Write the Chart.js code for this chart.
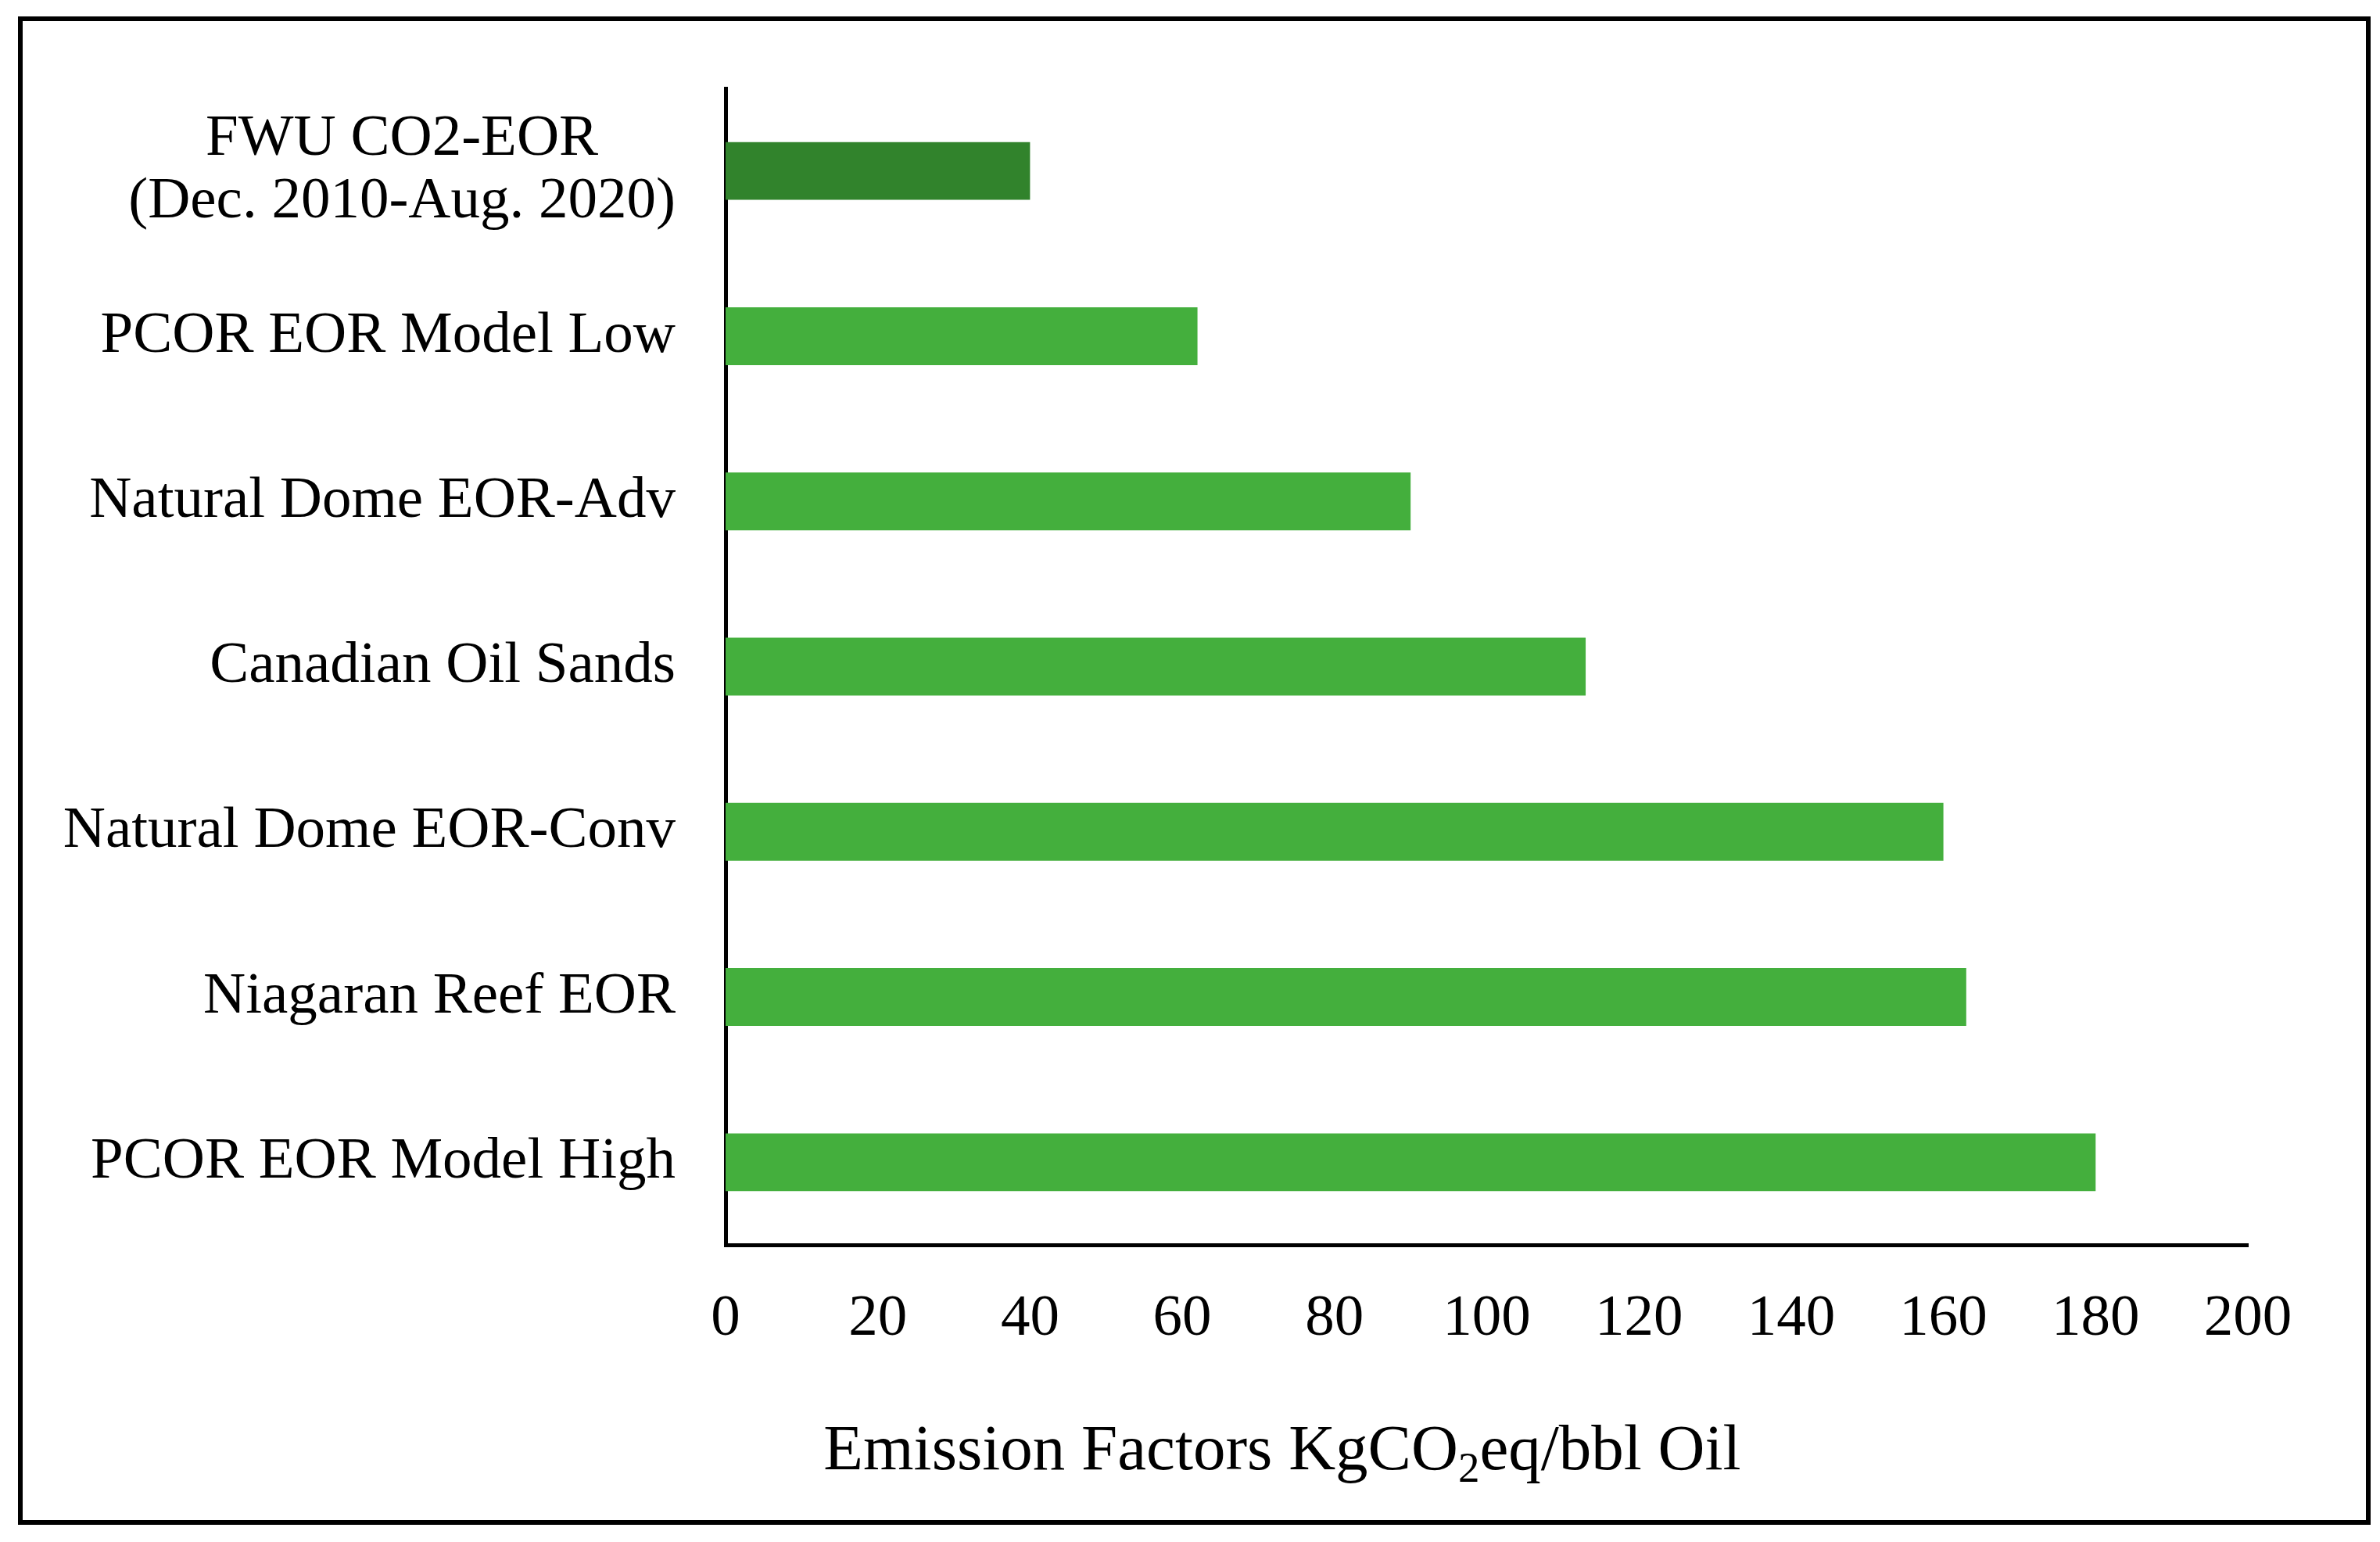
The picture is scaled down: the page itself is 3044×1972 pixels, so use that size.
<!DOCTYPE html>
<html>
<head>
<meta charset="utf-8">
<script src="https://cdn.jsdelivr.net/npm/chart.js@4.4.1/dist/chart.umd.min.js"></script>
<style>
  html, body { margin: 0; padding: 0; background: #fff; }
  #wrap { position: absolute; left: 0; top: 0; width: 3044px; height: 1972px; }
  #frame { position: absolute; left: 23px; top: 21px; width: 3009px; height: 1929px;
           border: 6px solid #000; box-sizing: border-box; pointer-events: none; }
</style>
</head>
<body>
<div id="wrap">
  <canvas id="emissionChart" width="3044" height="1972"></canvas>
  <div id="frame"></div>
</div>
<script>
// data
const categories = [
  ['FWU CO2-EOR', '(Dec. 2010-Aug. 2020)'],
  'PCOR EOR Model Low',
  'Natural Dome EOR-Adv',
  'Canadian Oil Sands',
  'Natural Dome EOR-Conv',
  'Niagaran Reef EOR',
  'PCOR EOR Model High'
];
const emissionFactors = [40, 62, 90, 113, 160, 163, 180];
const xTicks = [0, 20, 40, 60, 80, 100, 120, 140, 160, 180, 200];
const barColors = ['#31832C', '#44AF3D', '#44AF3D', '#44AF3D', '#44AF3D', '#44AF3D', '#44AF3D'];

const serif = '"Liberation Serif", "Times New Roman", serif';
const tickSize = 75;

// first label is drawn centred on two lines, like the original
const fwuLabel = {
  id: 'fwuLabel',
  afterDraw(chart) {
    const ctx = chart.ctx;
    const y = chart.scales.y.getPixelForValue(0);
    const lines = categories[0];
    ctx.save();
    ctx.font = `${tickSize}px ${serif}`;
    ctx.fillStyle = '#000';
    ctx.textBaseline = 'middle';
    ctx.textAlign = 'center';
    const w = Math.max(...lines.map(l => ctx.measureText(l).width));
    const cx = chart.chartArea.left - 64 - w / 2;
    ctx.fillText(lines[0], cx, y - 40);
    ctx.fillText(lines[1], cx, y + 40);
    ctx.restore();
  }
};

// x axis title with subscript 2
const axisTitle = {
  id: 'axisTitle',
  afterDraw(chart) {
    const ctx = chart.ctx;
    const parts = [
      { t: 'Emission Factors KgCO', size: 83, dy: 0 },
      { t: '2', size: 55, dy: 16 },
      { t: 'eq/bbl Oil', size: 83, dy: 0 }
    ];
    ctx.save();
    ctx.fillStyle = '#000';
    ctx.textBaseline = 'alphabetic';
    ctx.textAlign = 'left';
    let total = 0;
    parts.forEach(p => { ctx.font = `${p.size}px ${serif}`; p.w = ctx.measureText(p.t).width; total += p.w; });
    let x = 1640 - total / 2;
    const base = 1879;
    parts.forEach(p => {
      ctx.font = `${p.size}px ${serif}`;
      ctx.fillText(p.t, x, base + p.dy);
      x += p.w;
    });
    ctx.restore();
  }
};

new Chart(document.getElementById('emissionChart').getContext('2d'), {
  type: 'bar',
  data: {
    labels: categories,
    datasets: [{
      data: emissionFactors,
      backgroundColor: barColors,
      borderWidth: 0,
      barPercentage: 0.35,
      categoryPercentage: 1
    }]
  },
  options: {
    indexAxis: 'y',
    responsive: false,
    animation: false,
    devicePixelRatio: 1,
    layout: { padding: { top: 113, right: 169, bottom: 0, left: 0 } },
    plugins: { legend: { display: false }, tooltip: { enabled: false } },
    scales: {
      x: {
        min: 0,
        max: 200,
        afterBuildTicks: scale => { scale.ticks = xTicks.map(v => ({ value: v })); },
        afterFit: scale => { scale.height = 380; },
        grid: { display: false, drawTicks: false },
        border: { display: true, color: '#000', width: 5 },
        ticks: { color: '#000', padding: 50, font: { family: serif, size: tickSize } }
      },
      y: {
        afterFit: scale => { scale.width = 928; },
        grid: { display: false, drawTicks: false },
        border: { display: true, color: '#000', width: 5 },
        ticks: {
          padding: 64,
          color: ctx => ctx.index === 0 ? 'rgba(0,0,0,0)' : '#000',
          font: { family: serif, size: tickSize }
        }
      }
    }
  },
  plugins: [fwuLabel, axisTitle]
});
</script>
</body>
</html>
